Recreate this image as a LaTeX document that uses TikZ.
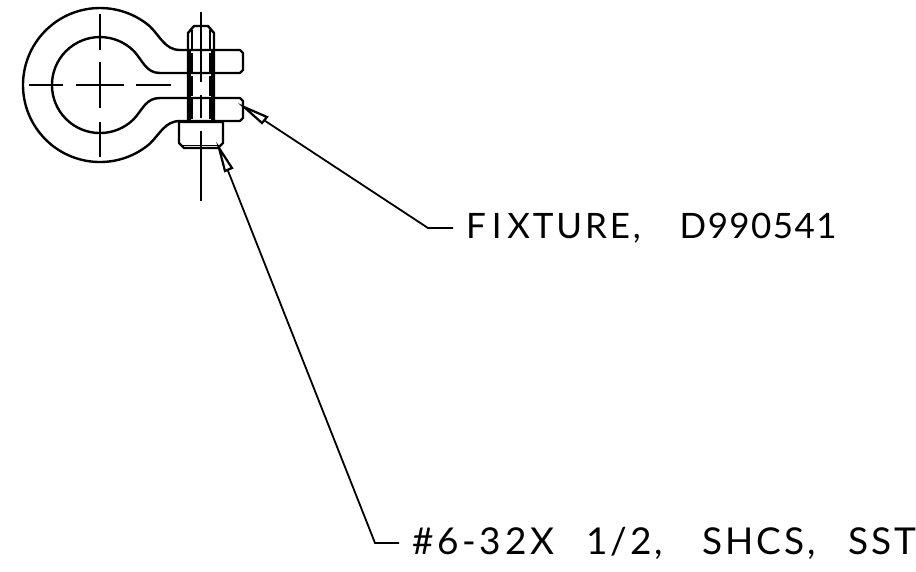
\documentclass[tikz,border=0pt]{standalone}
\usepackage{fontspec}
\usepackage{tikz}
\usetikzlibrary{positioning}
\newfontfamily\cadfont[LetterSpace=8]{Lato}
\newfontfamily\cadtight[LetterSpace=4]{Lato}
\newfontfamily\cadwide[LetterSpace=10]{Lato}
\tikzset{
    part/.style={line width=2.4pt, line join=round},
    thread/.style={line width=3.5pt},
    thread line/.style={line width=1.5pt, dash pattern=on 20pt off 3pt},
    center line/.style={line width=1.9pt},
    leader/.style={line width=1.8pt},
    head tip/.style={line width=2.2pt, fill=white, line join=miter},
    callout/.style={anchor=west, inner xsep=13pt, inner ysep=0pt, fontsize=35},
    fontsize/.style={font=\fontsize{#1}{#1}\selectfont}
}
\begin{document}
\begin{tikzpicture}[x=1pt, y=-1pt]
    \useasboundingbox (0,0) rectangle (916,571);
    % Fixture body
    \draw [part] (149.5,26) .. controls (160,36) and (165,50) .. (180,50) -- (240,50)
        -- (243,53) -- (243,70) -- (240,73) -- (160,73)
        .. controls (146,73) and (143,61) .. (133.9,51.1)
        arc [start angle=45, end angle=315, radius=48pt]
        .. controls (143,109) and (146,98) .. (160,98) -- (240,98)
        -- (243,101) -- (243,118) -- (240,121) -- (180,121)
        .. controls (165,121) and (160,134) .. (149.5,144)
        arc [start angle=310, end angle=50, radius=77pt];
    % Screw
    \draw [part] (188,121) -- (188,33) -- (194,26) -- (208,26) -- (214,33) -- (214,121);
    \draw [thread] (189,50) -- (189,121);
    \draw [thread] (213,50) -- (213,121);
    \draw [thread line] (192,30) -- (192,120);
    \draw [thread line] (210,30) -- (210,120);
    \draw [part] (179,122) -- (179,143) -- (184,148) -- (218,148) -- (223,143) -- (223,122) -- cycle;
    \draw [line width=0.8pt] (181,145) -- (221,145);
    % Center lines
    \draw [center line] (100,14) -- (100,50);
    \draw [center line] (100,62) -- (100,108);
    \draw [center line] (100,122) -- (100,157);
    \draw [center line] (29,85) -- (63,85);
    \draw [center line] (76,85) -- (124,85);
    \draw [center line] (136,85) -- (171,85);
    \draw [center line] (201,12) -- (201,82);
    \draw [center line] (201,95) -- (201,118);
    \draw [center line] (201,131) -- (201,201);
    % Callouts
    \coordinate (fixturetip) at (244,107);
    \coordinate (fixtureelbow) at (428,228);
    \coordinate (screwtip) at (219,148);
    \coordinate (screwelbow) at (375,543);
    \node (fixture) [callout] at (453,228) {\cadfont F\,I\,XTURE,\hspace{39pt}\cadtight D990541};
    \node (screw) [callout, fontsize=37] at (399,543) {\cadwide \#6-32X\hspace{32pt}\cadfont 1/2,\hspace{39pt}SHCS,\hspace{33pt}SST};
    \draw [leader] (fixturetip) -- (fixtureelbow) -- (fixture.west);
    \draw [leader] (screwtip) -- (screwelbow) -- (screw.west);
    \draw [head tip] (fixturetip) -- (267,117) -- (262,123) -- cycle;
    \draw [head tip] (screwtip) -- (232,168) -- (225,171) -- cycle;
\end{tikzpicture}
\end{document}
